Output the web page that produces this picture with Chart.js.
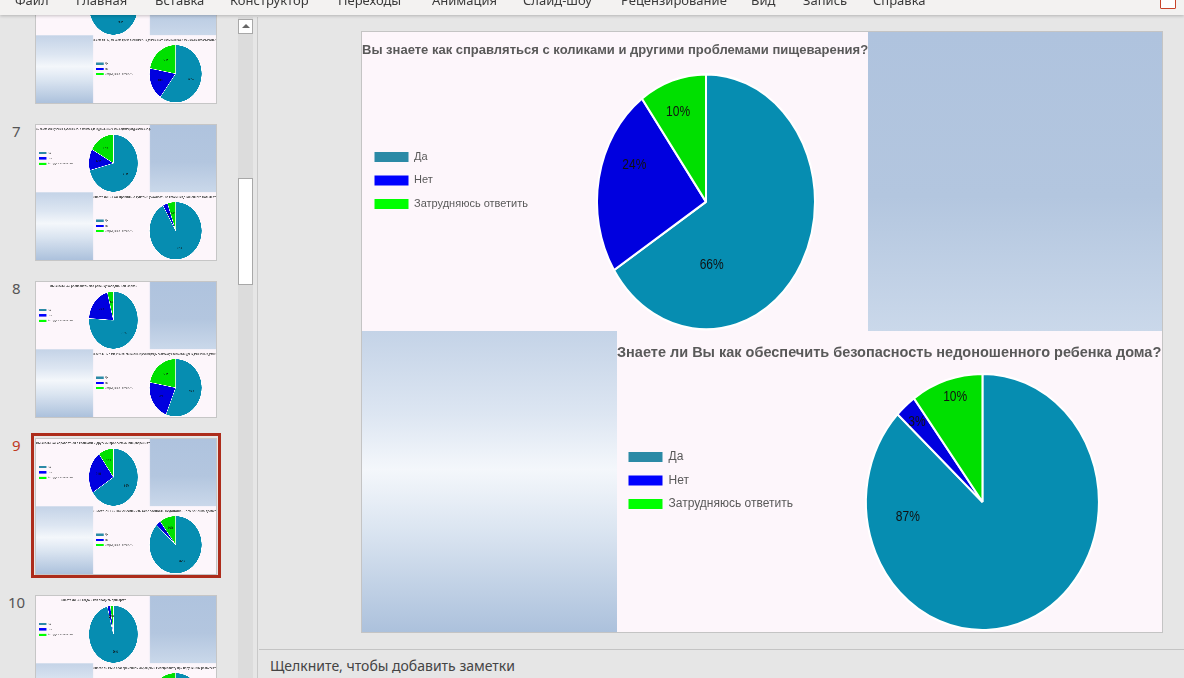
<!DOCTYPE html>
<html lang="ru">
<head>
<meta charset="utf-8">
<script src="https://cdn.jsdelivr.net/npm/chart.js@4.4.1/dist/chart.umd.min.js"></script>
<style>
  html, body { margin: 0; padding: 0; }
  body { width: 1184px; height: 678px; overflow: hidden; position: relative; background: #e6e6e6; font-family: "Noto Sans", "Open Sans", sans-serif; }
  #menu { position: absolute; left: 0; top: 0; width: 1184px; height: 15px; background: #f3f2f1; box-shadow: 0 1px 3px rgba(0,0,0,0.22); z-index: 5; overflow: hidden; }
  #menu span { position: absolute; top: -8px; font-size: 13px; line-height: 16px; color: #3a3a3a; white-space: nowrap; }
  #menu .share { position: absolute; left: 1160px; top: -4px; width: 14px; height: 11px; border: 1px solid #c8432a; background: #fff; border-radius: 1px; }
  .num { position: absolute; font-size: 15px; color: #555; }
  .thumb { position: absolute; left: 35px; width: 180px; height: 135px; border: 1px solid #c6c6c6; overflow: hidden; background: #fdf6fb; }
  .thumb .slide { transform: scale(0.225); transform-origin: 0 0; }
  #picked { position: absolute; left: 31px; top: 433px; width: 184px; height: 139px; border: 3px solid #ad2c1b; }
  #track { position: absolute; left: 238px; top: 17px; width: 15px; height: 661px; background: #dcdcdc; }
  #up { position: absolute; left: 238px; top: 19px; width: 13px; height: 13px; background: #fff; border: 1px solid #a8a8a8; }
  #up::after { content: ""; position: absolute; left: 3px; top: 4px; border-left: 4px solid transparent; border-right: 4px solid transparent; border-bottom: 4px solid #666; }
  #knob { position: absolute; left: 238px; top: 178px; width: 13px; height: 105px; background: #fff; border: 1px solid #a8a8a8; }
  #split { position: absolute; left: 257px; top: 17px; width: 1px; height: 661px; background: #c9c9c9; }
  #main { position: absolute; left: 361px; top: 31px; width: 800px; height: 600px; border: 1px solid #c4c4c4; }
  .slide { position: absolute; left: 0; top: 0; width: 800px; height: 600px; background: #fdf6fb; }
  .panel { position: absolute; }
  .pink { background: #fdf6fb; }
  .sky { background: linear-gradient(to bottom, #afc3de 0%, #b3c6df 55%, #cad8ea 100%); }
  .mist { background: linear-gradient(to bottom, #c4d3e7 0%, #dde6f2 28%, #f4f7fb 46%, #dbe5f1 66%, #acc1dc 100%); }
  .pa { left: 0; top: 0; width: 506px; height: 299px; }
  .pb { left: 506px; top: 0; width: 294px; height: 299px; }
  .pc { left: 0; top: 299px; width: 255px; height: 301px; }
  .pd { left: 255px; top: 299px; width: 545px; height: 301px; }
  canvas { display: block; }
  #notesLine { position: absolute; left: 259px; top: 649px; width: 925px; height: 1px; background: #c4c4c4; }
  #notes { position: absolute; left: 270px; top: 656px; font-size: 14px; line-height: 20px; color: #444; }
</style>
</head>
<body>
<div id="menu">
  <span style="left:15px">Файл</span>
  <span style="left:76px">Главная</span>
  <span style="left:155px">Вставка</span>
  <span style="left:230px">Конструктор</span>
  <span style="left:338px">Переходы</span>
  <span style="left:432px">Анимация</span>
  <span style="left:523px">Слайд-шоу</span>
  <span style="left:621px">Рецензирование</span>
  <span style="left:751px">Вид</span>
  <span style="left:803px">Запись</span>
  <span style="left:873px">Справка</span>
  <div class="share"></div>
</div>

<div id="pane"></div>
<div id="track"></div>
<div id="up"></div>
<div id="knob"></div>
<div id="split"></div>

<div id="main"></div>

<div id="notesLine"></div>
<div id="notes">Щелкните, чтобы добавить заметки</div>

<script>
const categories = ['Да', 'Нет', 'Затрудняюсь ответить'];

// slide 9 (shown large)
const kolikiTitle = 'Вы знаете как справляться с коликами и другими проблемами пищеварения?';
const kolikiValues = [66, 24, 10];
const domTitle = 'Знаете ли Вы как обеспечить безопасность недоношенного ребенка дома?';
const domValues = [87, 3, 10];

// thumbnails on the left (values estimated from the small pictures)
const slideNumbers = [6, 7, 8, 9, 10];
const slide6Top = [85, 5, 10];
const slide6Bottom = [60, 18, 22];
const slide7Top = [71, 12, 17];
const slide7Bottom = [92, 3, 5];
const slide8Top = [76, 20, 4];
const slide8Bottom = [56, 22, 22];
const slide10Top = [96, 2, 2];
const slide10Bottom = [80, 8, 12];

const pieColors = ['#068db1', '#0000df', '#00e000'];
const legendColors = ['#2b8aa6', '#0000ff', '#00ff00'];
const family = '"Liberation Sans", Arial, sans-serif';

// the pies in the slide are stretched ovals, labels sit where PowerPoint put them
const ovalPie = {
  id: 'ovalPie',
  beforeDatasetsDraw(chart, args, opts) {
    const arc = chart.getDatasetMeta(0).data[0];
    const ctx = chart.ctx;
    ctx.save();
    ctx.translate(arc.x, arc.y);
    ctx.scale(1, opts.stretch);
    ctx.translate(-arc.x, -arc.y);
  },
  afterDatasetsDraw(chart, args, opts) {
    const ctx = chart.ctx;
    ctx.restore();
    const values = chart.data.datasets[0].data;
    const total = values.reduce((a, b) => a + b, 0);
    ctx.save();
    ctx.font = opts.labelFont;
    ctx.fillStyle = '#111111';
    ctx.textAlign = 'center';
    ctx.textBaseline = 'middle';
    chart.getDatasetMeta(0).data.forEach((arc, i) => {
      const spot = opts.spots ? opts.spots[i] : null;
      const a = spot ? spot[0] / 180 * Math.PI - Math.PI / 2 : (arc.startAngle + arc.endAngle) / 2;
      const f = spot ? spot[1] : 0.62;
      const x = arc.x + Math.cos(a) * arc.outerRadius * f;
      const y = arc.y + Math.sin(a) * arc.outerRadius * f * opts.stretch;
      ctx.save();
      ctx.translate(x, y);
      ctx.scale(0.8, 1);
      ctx.fillText(Math.round(values[i] * 100 / total) + '%', 0, 0);
      ctx.restore();
    });
    ctx.restore();
  }
};

// canvas of the top chart runs a little under the blue panel, it is transparent there
const topStyle = {
  width: 512, height: 299,
  titleSize: 13, titleTop: 11, titleBottom: 14,
  legendSize: 11, legendPad: 12.5, legendGap: 92.5, radius: 109, stretch: 1.17
};
const bottomStyle = {
  width: 545, height: 301,
  titleSize: 14.5, titleTop: 13.5, titleBottom: 10,
  legendSize: 12, legendPad: 11.5, legendGap: 94, radius: 116.5, stretch: 1.1
};

function makePie(canvas, title, values, st, align, spots) {
  canvas.width = st.width;
  canvas.height = st.height;
  return new Chart(canvas, {
    type: 'pie',
    data: {
      labels: categories,
      datasets: [{
        data: values,
        backgroundColor: pieColors,
        borderColor: '#ffffff',
        borderWidth: 2,
        radius: st.radius,
        clip: false
      }]
    },
    options: {
      responsive: false,
      animation: false,
      events: [],
      plugins: {
        title: {
          display: true,
          text: title,
          align: align,
          color: '#595959',
          font: { size: st.titleSize, weight: 'bold', family: family },
          padding: { top: st.titleTop, bottom: st.titleBottom }
        },
        legend: {
          position: 'left',
          align: 'start',
          title: { display: true, text: '', font: { size: 12 }, padding: { top: 0, bottom: st.legendGap } },
          labels: {
            boxWidth: 34,
            boxHeight: 10,
            padding: st.legendPad,
            font: { size: st.legendSize, family: family },
            generateLabels: () => categories.map((text, i) => ({
              text,
              fillStyle: legendColors[i],
              strokeStyle: legendColors[i],
              lineWidth: 0,
              fontColor: '#595959',
              hidden: false,
              index: i,
              datasetIndex: 0
            }))
          }
        },
        tooltip: { enabled: false },
        ovalPie: { stretch: st.stretch, labelFont: '15px ' + family, spots: spots }
      }
    },
    plugins: [ovalPie]
  });
}

function buildSlide(host, top, bottom) {
  host.innerHTML =
    '<div class="panel pink pa"></div>' +
    '<div class="panel sky pb"></div>' +
    '<div class="panel mist pc"></div>' +
    '<div class="panel pink pd"></div>' +
    '<div class="panel" style="left:0;top:0"><canvas></canvas></div>' +
    '<div class="panel" style="left:255px;top:299px"><canvas></canvas></div>';
  const cv = host.querySelectorAll('canvas');
  makePie(cv[0], top.title, top.values, topStyle, top.align || 'start', top.spots);
  makePie(cv[1], bottom.title, bottom.values, bottomStyle, 'start', bottom.spots);
}

// big slide
const main = document.createElement('div');
main.className = 'slide';
document.getElementById('main').appendChild(main);
buildSlide(main,
  { title: kolikiTitle, values: kolikiValues, spots: [[174, 0.5], [294, 0.72], [340, 0.75]] },
  { title: domTitle, values: domValues, spots: [[260, 0.65], [318, 0.84], [344, 0.85]] });

// thumbnails
const thumbs = [
  [{ title: 'Знаете ли Вы, как правильно кормить недоношенного ребенка?', values: slide6Top },
   { title: 'Знаете ли Вы, как часто нужно взвешивать недоношенного малыша и какие весы лучше использовать?', values: slide6Bottom }],
  [{ title: 'Вы знаете какие условия должны быть в комнате для недоношенного ребенка(температура,влажность)?', values: slide7Top },
   { title: 'Знаете ли Вы как правильно купать и ухаживать за кожей недоношенного малыша?', values: slide7Bottom }],
  [{ title: 'Вы знаете как распознать, что ребёнку холодно или жарко?', values: slide8Top, align: 'center' },
   { title: 'Знаете ли Вы о том, что есть специальные рекомендации по массажу и гимнастике для недоношенных детей?', values: slide8Bottom }],
  [{ title: kolikiTitle, values: kolikiValues },
   { title: domTitle, values: domValues }],
  [{ title: 'Знаете ли Вы когда и как вводить прикорм?', values: slide10Top, align: 'center' },
   { title: 'Знаете ли Вы о своевременном обращении к специалисту при нарушениях развития?', values: slide10Bottom }]
];

const pane = document.getElementById('pane');
thumbs.forEach((pair, i) => {
  const y = -33 + i * 157;
  const box = document.createElement('div');
  box.className = 'thumb';
  box.style.top = y + 'px';
  const s = document.createElement('div');
  s.className = 'slide';
  box.appendChild(s);
  pane.appendChild(box);
  buildSlide(s, pair[0], pair[1]);
  const n = document.createElement('div');
  n.className = 'num';
  n.textContent = slideNumbers[i];
  n.style.left = (slideNumbers[i] >= 10 ? 8 : 12) + 'px';
  n.style.top = (y - 3) + 'px';
  if (slideNumbers[i] === 9) n.style.color = '#c0391f';
  pane.appendChild(n);
});
const picked = document.createElement('div');
picked.id = 'picked';
pane.appendChild(picked);
</script>
</body>
</html>
